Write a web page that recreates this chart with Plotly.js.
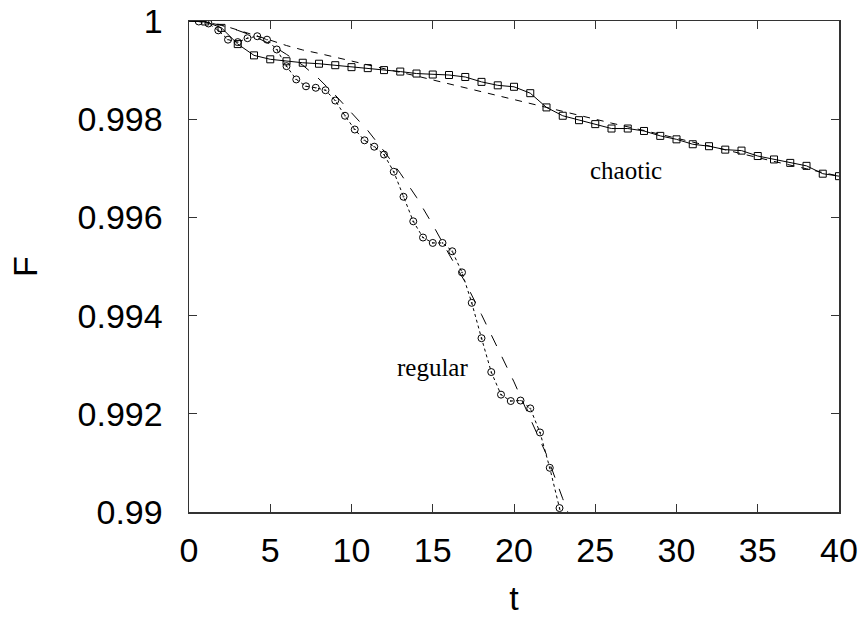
<!DOCTYPE html>
<html>
<head>
<meta charset="utf-8">
<script src="https://cdn.plot.ly/plotly-3.0.1.min.js"></script>
<style>html,body{margin:0;padding:0;background:#fff;}#chart{width:864px;height:617px;}</style>
</head>
<body>
<div id="chart"></div>
<script>
// chaotic: simulated points (squares) and theory (short dashes)
const chaoticT = [0,1,2,3,4,5,6,7,8,9,10,11,12,13,14,15,16,17,18,19,20,21,22,23,24,25,26,27,28,29,30,31,32,33,34,35,36,37,38,39,40];
const chaoticF = [1.0,0.99999,0.99986,0.99953,0.99930,0.99922,0.99918,0.99915,0.99913,0.99910,0.99906,0.99904,0.99900,0.99897,0.99893,0.99891,0.99890,0.99886,0.99876,0.99869,0.99866,0.99853,0.99824,0.99807,0.99798,0.99790,0.99781,0.99781,0.99776,0.99766,0.99759,0.99749,0.99745,0.99738,0.99736,0.99725,0.99718,0.99711,0.99705,0.99689,0.99684];
const chaoticTheoryT = [0,1,2,3,4,5,6,7,8,10,12,14,16,18,20,22,24,26,28,30,32,34,36,38,40];
const chaoticTheoryF = [1.0,0.99998,0.99992,0.99982,0.99971,0.99961,0.99950,0.99941,0.99934,0.99918,0.99903,0.99888,0.99872,0.99855,0.99839,0.99823,0.99808,0.99792,0.99777,0.99761,0.99745,0.99730,0.99714,0.99699,0.99684];
// regular: simulated points (circles) and theory (long dashes)
const regularT = [0,0.6,1.2,1.8,2.4,3.0,3.6,4.2,4.8,5.4,6.0,6.6,7.2,7.8,8.4,9.0,9.6,10.2,10.8,11.4,12.0,12.6,13.2,13.8,14.4,15.0,15.6,16.2,16.8,17.4,18.0,18.6,19.2,19.8,20.4,21.0,21.6,22.2,22.8,23.4];
const regularF = [1.0,0.99999,0.99995,0.99981,0.99962,0.99957,0.99965,0.99969,0.99962,0.99942,0.99908,0.99881,0.99867,0.99864,0.99859,0.99838,0.99807,0.99779,0.99757,0.99744,0.99728,0.99693,0.99642,0.99592,0.99559,0.99548,0.99548,0.99531,0.99488,0.99426,0.99354,0.99285,0.99239,0.99226,0.99227,0.99211,0.99162,0.99090,0.99008,0.98920];
const regularTheoryT = [0,1,2,3,4,5,6,7,8,9,10,11,12,13,14,15,16,17,18,19,20,21,22,23,24];
const regularTheoryF = [1.0,0.99998,0.99991,0.99981,0.99969,0.99953,0.99932,0.99910,0.99882,0.99849,0.99813,0.99777,0.99735,0.99690,0.99641,0.99585,0.99525,0.99468,0.99402,0.99335,0.99265,0.99190,0.99117,0.99027,0.98940];
const xTicks = [0,5,10,15,20,25,30,35,40];
const yTicks = [0.99,0.992,0.994,0.996,0.998,1];
const yTickText = ['0.99','0.992','0.994','0.996','0.998','1'];

const traces = [
  {x: chaoticTheoryT, y: chaoticTheoryF, mode: 'lines', line: {color: '#000', width: 1, dash: '7px,7px'}, hoverinfo: 'skip'},
  {x: regularTheoryT, y: regularTheoryF, mode: 'lines', line: {color: '#000', width: 1, dash: '12px,12px'}, hoverinfo: 'skip'},
  {x: chaoticT.slice(1), y: chaoticF.slice(1), mode: 'lines+markers', line: {color: '#000', width: 1},
   marker: {symbol: 'square-open', size: 7, color: '#000', line: {width: 1, color: '#000'}}},
  {x: [chaoticT[0], chaoticT[1]], y: [chaoticF[0], chaoticF[1]], mode: 'lines', line: {color: '#000', width: 1}, hoverinfo: 'skip'},
  {x: regularT.slice(1), y: regularF.slice(1), mode: 'lines+markers', line: {color: '#000', width: 1, dash: 'dot'},
   marker: {symbol: 'circle-open-dot', size: 7, color: '#000', line: {width: 1, color: '#000'}}},
];

const axisFont = {family: 'Liberation Sans, Arial, sans-serif', size: 34, color: '#000'};
const layout = {
  width: 864, height: 617,
  margin: {l: 189, r: 25, t: 21, b: 105},
  paper_bgcolor: '#fff', plot_bgcolor: '#fff',
  showlegend: false,
  font: axisFont,
  xaxis: {
    range: [0, 40], tickvals: xTicks, ticks: 'inside', ticklen: 8, tickwidth: 1, tickcolor: '#333',
    showline: true, linecolor: '#333', linewidth: 1.5, mirror: 'ticks', showgrid: false, zeroline: false,
    tickfont: axisFont, ticklabelstandoff: 8,
    title: {text: 't', font: axisFont, standoff: 30}
  },
  yaxis: {
    range: [0.99, 1], tickvals: yTicks, ticktext: yTickText, ticks: 'inside', ticklen: 8, tickwidth: 1, tickcolor: '#333',
    showline: true, linecolor: '#333', linewidth: 1.5, mirror: 'ticks', showgrid: false, zeroline: false,
    tickfont: axisFont, ticklabelstandoff: 18, automargin: 'left',
    title: {text: 'F', font: axisFont, standoff: 29}
  },
  annotations: [
    {x: 26.9, y: 0.99696, xref: 'x', yref: 'y', text: 'chaotic', showarrow: false,
     font: {family: 'Liberation Serif, Times New Roman, serif', size: 25, color: '#000'}},
    {x: 15.0, y: 0.99295, xref: 'x', yref: 'y', text: 'regular', showarrow: false,
     font: {family: 'Liberation Serif, Times New Roman, serif', size: 25, color: '#000'}}
  ]
};
Plotly.newPlot('chart', traces, layout, {displayModeBar: false, staticPlot: true});
</script>
</body>
</html>
